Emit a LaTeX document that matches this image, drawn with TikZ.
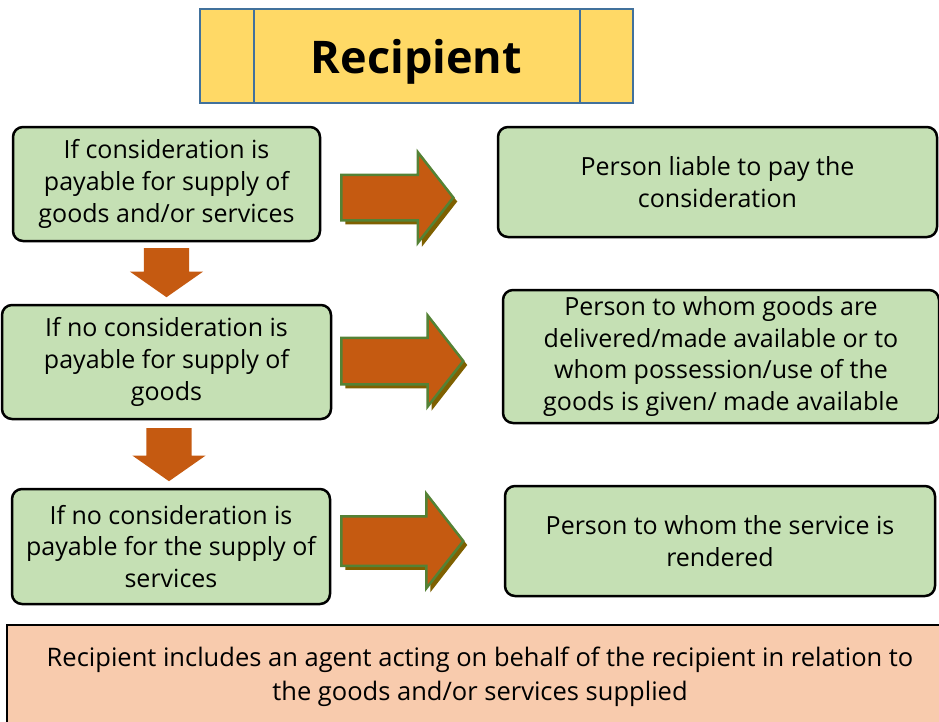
\documentclass[tikz,border=0pt]{standalone}
\usepackage{fontspec}
\setmainfont{Open Sans}
\usetikzlibrary{shapes.arrows,shadows}

\definecolor{boxgreen}{HTML}{C5E0B4}
\definecolor{titleyellow}{HTML}{FFD966}
\definecolor{titleblue}{HTML}{41719C}
\definecolor{arroworange}{HTML}{C55A11}
\definecolor{arrowgreen}{HTML}{548235}
\definecolor{shadowbrown}{HTML}{7F6000}
\definecolor{notepeach}{HTML}{F8CBAD}

\begin{document}
\begin{tikzpicture}[x=1pt,
					y=-1pt,
					case node/.style={draw=black,line width=2.5pt,fill=boxgreen,
						rounded corners=10pt,align=center,inner sep=0pt,
						font=\fontsize{25}{31.7}\selectfont},
					title node/.style={draw=titleblue,line width=2pt,fill=titleyellow,
						inner sep=0pt,text depth=0pt,font=\fontsize{45}{50}\selectfont\bfseries},
					note node/.style={draw=black,line width=2.5pt,fill=notepeach,
						align=center,inner sep=0pt,font=\fontsize{25.5}{34}\selectfont},
					right arrow/.style={single arrow,draw=arrowgreen,line width=2.5pt,
						fill=arroworange,inner xsep=0pt,anchor=tail,
						single arrow head extend=22.5pt,single arrow tip angle=104,
						drop shadow={shadow xshift=4pt,shadow yshift=-4pt,fill=shadowbrown,opacity=1}},
					down arrow/.style={single arrow,fill=arroworange,inner xsep=0pt,
						inner ysep=22.5pt,rotate=-90,anchor=tail,
						single arrow head extend=14pt,single arrow tip angle=110}]

  \useasboundingbox (0,0) rectangle (939,721);

  % title
  \node[title node,minimum width=433pt,minimum height=94pt] (title) at (416.5,56) {Recipient};
  \draw[titleblue,line width=2pt] ([xshift=55pt]title.north west) -- ([xshift=55pt]title.south west);
  \draw[titleblue,line width=2pt] ([xshift=-54pt]title.north east) -- ([xshift=-54pt]title.south east);

  % cases
  \node[case node,minimum width=307pt,minimum height=114pt] (c1) at (166.5,184)
    {If consideration is\\payable for supply of\\goods and/or services};
  \node[case node,minimum width=329pt,minimum height=114pt] (c2) at (166.5,362)
    {If no consideration is\\payable for supply of\\goods};
  \node[case node,minimum width=318pt,minimum height=115pt] (c3) at (171,546.5)
    {If no consideration is\\payable for the supply of\\services};

  % recipients
  \node[case node,minimum width=439pt,minimum height=110pt] (r1) at (717.5,182)
    {Person liable to pay the\\consideration};
  \node[case node,minimum width=436pt,minimum height=133pt] (r2) at (721,356.5)
    {Person to whom goods are\\delivered/made available or to\\whom possession/use of the\\goods is given/ made available};
  \node[case node,minimum width=430pt,minimum height=110pt] (r3) at (720,541)
    {Person to whom the service is\\rendered};

  % arrows
  \node[right arrow,inner ysep=21.5pt,minimum height=112pt] (a1) at (340,197.5) {};
  \node[right arrow,inner ysep=22pt,minimum height=122pt] (a2) at (340,361) {};
  \node[right arrow,inner ysep=23.5pt,minimum height=122pt] (a3) at (340,541) {};
  \node[down arrow,minimum height=49pt] (d1) at (166.5,248) {};
  \node[down arrow,minimum height=53pt] (d2) at (169,428) {};

  % note
  \node[note node,minimum width=946pt,minimum height=104pt] (note) at (480,677)
    {Recipient includes an agent acting on behalf of the recipient in relation to\\the goods and/or services supplied};
\end{tikzpicture}
\end{document}
